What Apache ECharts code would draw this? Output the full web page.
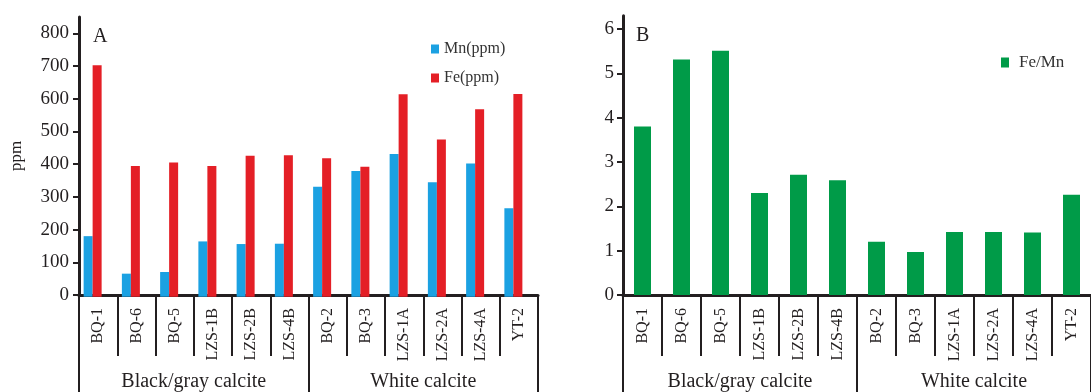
<!DOCTYPE html>
<html><head><meta charset="utf-8">
<script src="https://cdn.jsdelivr.net/npm/echarts@6/dist/echarts.min.js"></script>
<style>html,body{margin:0;padding:0;background:#fff}#c{width:1091px;height:392px}</style>
</head><body><div id="c"></div>
<script>
const samples = ["BQ-1","BQ-6","BQ-5","LZS-1B","LZS-2B","LZS-4B","BQ-2","BQ-3","LZS-1A","LZS-2A","LZS-4A","YT-2"];
const groups = ["Black/gray calcite","White calcite"];
const mn = [184,70,75,168,160,161,334,382,434,348,405,269];
const fe = [703,397,408,397,428,430,421,395,615,478,570,616];
const feMn = [3.80,5.31,5.51,2.30,2.71,2.59,1.20,0.97,1.42,1.42,1.41,2.26];
const ticksA = [0,100,200,300,400,500,600,700,800];
const ticksB = [0,1,2,3,4,5,6];

const F = "Liberation Serif";
const ink = "#231f20";
const chart = echarts.init(document.getElementById('c'));

function sampleAxis(grid){
  return {type:'category', gridIndex:grid, data:samples, position:'bottom',
    axisLine:{show:true, lineStyle:{color:ink, width:3}},
    axisTick:{show:true, interval:0, length:61, lineStyle:{color:ink, width:2}},
    axisLabel:{interval:0, rotate:90, margin:13, fontFamily:F, fontSize:16, color:ink},
    splitLine:{show:false}};
}
function groupAxis(grid){
  return {type:'category', gridIndex:grid, data:groups, position:'bottom',
    axisLine:{show:false},
    axisTick:{show:true, interval:0, length:97, lineStyle:{color:ink, width:2}},
    axisLabel:{interval:0, margin:77, fontFamily:F, fontSize:20, color:ink},
    splitLine:{show:false}};
}

chart.setOption({
  animation:false,
  grid:[
    {left:79, right:553, top:17, bottom:95.3, containLabel:false},
    {left:623, right:-1, top:15.7, bottom:95.3, containLabel:false},
    {left:73.5, right:558.5, top:17, bottom:95.3, containLabel:false}
  ],
  title:[
    {text:'A', left:88, top:22, textStyle:{fontFamily:F, fontSize:20, fontWeight:'normal', color:ink}},
    {text:'B', left:631, top:21, textStyle:{fontFamily:F, fontSize:20, fontWeight:'normal', color:ink}}
  ],
  legend:[
    {data:['Mn(ppm)','Fe(ppm)'], orient:'vertical', left:426, top:36, itemWidth:8, itemHeight:9, itemGap:13,
     icon:'rect', textStyle:{fontFamily:F, fontSize:16, color:'#333'}},
    {data:['Fe/Mn'], orient:'vertical', left:996, top:49, itemWidth:8, itemHeight:10,
     icon:'rect', textStyle:{fontFamily:F, fontSize:17, color:'#333', padding:[0,0,0,5]}}
  ],
  xAxis:[sampleAxis(0), groupAxis(0), sampleAxis(1), groupAxis(1),
    {type:'category', gridIndex:2, data:samples, show:false}],
  yAxis:[
    {type:'value', gridIndex:0, min:0, max:850, interval:100,
     name:'ppm', nameLocation:'middle', nameRotate:90, nameGap:54,
     nameTextStyle:{fontFamily:F, fontSize:17, color:ink},
     axisLine:{show:true, lineStyle:{color:ink, width:3}},
     axisTick:{show:true, length:6, customValues:ticksA, lineStyle:{color:ink, width:2}},
     axisLabel:{margin:10, fontFamily:F, fontSize:19, color:ink, customValues:ticksA},
     splitLine:{show:false}},
    {type:'value', gridIndex:1, min:0, max:6.3, interval:1,
     axisLine:{show:true, lineStyle:{color:ink, width:3}},
     axisTick:{show:true, length:6, customValues:ticksB, lineStyle:{color:ink, width:2}},
     axisLabel:{margin:9, fontFamily:F, fontSize:19, color:ink, customValues:ticksB},
     splitLine:{show:false}},
    {type:'value', gridIndex:2, min:0, max:850, interval:100, show:false}
  ],
  series:[
    {name:'Mn(ppm)', type:'bar', xAxisIndex:4, yAxisIndex:2, data:mn, barWidth:9, barGap:'0%',
     itemStyle:{color:'#1ba1e2'}},
    {name:'Fe(ppm)', type:'bar', xAxisIndex:4, yAxisIndex:2, data:fe, barWidth:9, barGap:'0%',
     itemStyle:{color:'#e41f26'}},
    {name:'Fe/Mn', type:'bar', xAxisIndex:2, yAxisIndex:1, data:feMn, barWidth:17,
     itemStyle:{color:'#009b48'}}
  ]
});
</script></body></html>
